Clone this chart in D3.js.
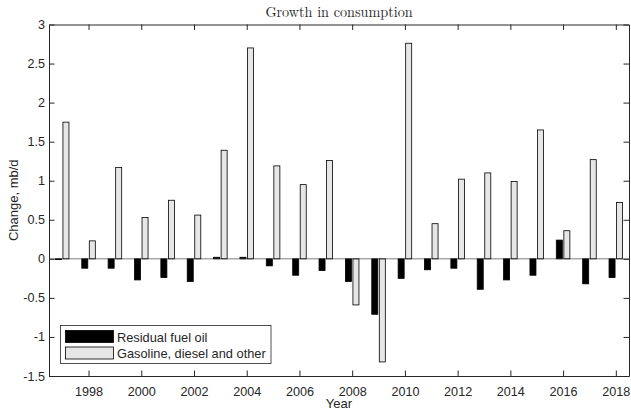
<!DOCTYPE html>
<html>
<head>
<meta charset="utf-8">
<script src="https://cdn.jsdelivr.net/npm/d3@7"></script>
<style>
  html, body { margin: 0; padding: 0; background: #fff; }
  svg { display: block; }
  text { font-family: "Liberation Sans", Arial, sans-serif; fill: #262626; }
</style>
</head>
<body>
<script>
// Yearly change in consumption, million barrels per day
const years = [1997, 1998, 1999, 2000, 2001, 2002, 2003, 2004, 2005, 2006, 2007,
               2008, 2009, 2010, 2011, 2012, 2013, 2014, 2015, 2016, 2017, 2018];
const residualFuelOil = [-0.01, -0.12, -0.12, -0.27, -0.24, -0.29, 0.02, 0.02, -0.09, -0.21, -0.15,
                         -0.29, -0.71, -0.25, -0.14, -0.12, -0.39, -0.27, -0.21, 0.24, -0.32, -0.24];
const gasolineDieselOther = [1.75, 0.23, 1.17, 0.53, 0.75, 0.56, 1.39, 2.70, 1.19, 0.95, 1.26,
                             -0.59, -1.32, 2.76, 0.45, 1.02, 1.10, 0.99, 1.65, 0.36, 1.27, 0.72];
const seriesNames = ["Residual fuel oil", "Gasoline, diesel and other"];
const xTicks = [1998, 2000, 2002, 2004, 2006, 2008, 2010, 2012, 2014, 2016, 2018];
const yTicks = [-1.5, -1, -0.5, 0, 0.5, 1, 1.5, 2, 2.5, 3];

const W = 631, H = 411;
const plot = { left: 49, right: 629, top: 24.5, bottom: 376 };

const svg = d3.select("body").append("svg").attr("width", W).attr("height", H);

const x = d3.scaleLinear().domain([1996.5, 2018.5]).range([plot.left, plot.right]);
const y = d3.scaleLinear().domain([-1.5, 3]).range([plot.bottom, plot.top]);

// grouped bars: two bars per year, offset either side of the year
const barW = 0.2286;
const offsets = [-0.1429, 0.1429];
const fills = ["#000000", "#e6e6e6"];
const series = [residualFuelOil, gasolineDieselOther];

const bars = svg.append("g");
series.forEach((vals, si) => {
  bars.selectAll(null)
    .data(years.map((yr, i) => ({ yr, v: vals[i] })))
    .join("rect")
    .attr("x", d => x(d.yr + offsets[si] - barW / 2))
    .attr("width", d => x(d.yr + offsets[si] + barW / 2) - x(d.yr + offsets[si] - barW / 2))
    .attr("y", d => y(Math.max(0, d.v)))
    .attr("height", d => Math.abs(y(d.v) - y(0)))
    .attr("fill", fills[si])
    .attr("stroke", "#000")
    .attr("stroke-width", 0.8);
});

// baseline at zero
svg.append("line")
  .attr("x1", plot.left).attr("x2", plot.right)
  .attr("y1", y(0)).attr("y2", y(0))
  .attr("stroke", "#262626").attr("stroke-width", 0.6);

// axes with inward ticks on all four sides
const axisColor = "#262626";
const tickLen = 5.5;
const bottomAxis = d3.axisBottom(x).tickValues(xTicks).tickFormat(d3.format("d")).tickSizeInner(-tickLen).tickSizeOuter(0).tickPadding(11);
const topAxis = d3.axisTop(x).tickValues(xTicks).tickFormat("").tickSizeInner(-tickLen).tickSizeOuter(0);
const leftAxis = d3.axisLeft(y).tickValues(yTicks).tickFormat(d => String(d)).tickSizeInner(-tickLen).tickSizeOuter(0).tickPadding(4);
const rightAxis = d3.axisRight(y).tickValues(yTicks).tickFormat("").tickSizeInner(-tickLen).tickSizeOuter(0);

function styleAxis(g) {
  g.select(".domain").attr("stroke", axisColor).attr("stroke-width", 1);
  g.selectAll(".tick line").attr("stroke", axisColor).attr("stroke-width", 1);
  g.selectAll(".tick text").attr("fill", axisColor).style("font-size", "12.6px")
    .style("font-family", "'Liberation Sans', Arial, sans-serif");
}

svg.append("g").attr("transform", `translate(0,${plot.bottom})`).call(bottomAxis).call(styleAxis);
svg.append("g").attr("transform", `translate(0,${plot.top})`).call(topAxis).call(styleAxis);
svg.append("g").attr("transform", `translate(${plot.left},0)`).call(leftAxis).call(styleAxis);
svg.append("g").attr("transform", `translate(${plot.right},0)`).call(rightAxis).call(styleAxis);

// title
svg.append("text")
  .attr("x", (plot.left + plot.right) / 2).attr("y", 17)
  .attr("text-anchor", "middle")
  .style("font-family", "'Latin Modern Roman', 'CMU Serif', 'Liberation Serif', 'DejaVu Serif', serif")
  .style("font-size", "14.2px").attr("fill", "#000")
  .text("Growth in consumption");

// axis labels
svg.append("text")
  .attr("x", (plot.left + plot.right) / 2).attr("y", 408)
  .attr("text-anchor", "middle").style("font-size", "13px")
  .text("Year");

svg.append("text")
  .attr("transform", `translate(18,${(plot.top + plot.bottom) / 2}) rotate(-90)`)
  .attr("text-anchor", "middle").style("font-size", "13px")
  .text("Change, mb/d");

// legend
const lg = svg.append("g");
lg.append("rect")
  .attr("x", 60.5).attr("y", 325.5).attr("width", 210.5).attr("height", 38)
  .attr("fill", "#fff").attr("stroke", axisColor).attr("stroke-width", 0.8);
seriesNames.forEach((name, i) => {
  const yy = 330.5 + i * 16.5;
  lg.append("rect")
    .attr("x", 65.5).attr("y", yy).attr("width", 48).attr("height", 12)
    .attr("fill", fills[i]).attr("stroke", "#000").attr("stroke-width", 0.8);
  lg.append("text")
    .attr("x", 117).attr("y", yy + 11)
    .style("font-size", "12.8px").attr("fill", "#000")
    .text(name);
});
</script>
</body>
</html>
